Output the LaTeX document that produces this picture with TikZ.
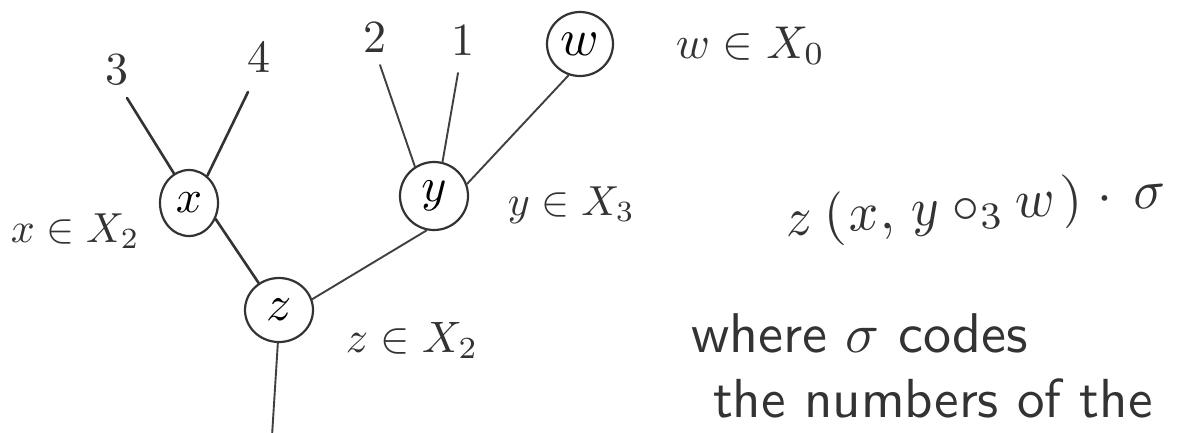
\documentclass[tikz,border=0pt]{standalone}
\usepackage{graphicx}
\usetikzlibrary{shapes.geometric}
\tikzset{
  tnode/.style={ellipse, draw=black!80, line width=2.2pt, inner sep=0pt},
  edgeA/.style={draw=black!80, line width=2.6pt, line cap=round},
  edgeB/.style={draw=black!75, line width=1.9pt, line cap=round},
  lab/.style={inner sep=0pt, text=black!80},
}
\begin{document}
\begin{tikzpicture}[x=1pt, y=-1pt]
  \fill[white] (0,0) rectangle (1186,432);
  \useasboundingbox (0,0) rectangle (1186,432);

  % tree nodes
  \node[tnode, minimum width=58pt, minimum height=66pt] (x) at (189,203) {\scalebox{4.6}{$x$}};
  \node[tnode, minimum width=68pt, minimum height=64pt] (z) at (279,310) {\scalebox{5}{$z$}};
  \node[tnode, minimum width=68pt, minimum height=68pt] (y) at (434,196) {\scalebox{4.8}{$y$}};
  \node[tnode, minimum width=66pt, minimum height=64pt] (w) at (580,44) {\scalebox{5.2}{$w$}};

  % leaf labels
  \node[lab, scale=4.6] (l3) at (117,70) {3};
  \node[lab, scale=4.6] (l4) at (259,57) {4};
  \node[lab, scale=4.6] (l2) at (375,37) {2};
  \node[lab, scale=4.6] (l1) at (463,40) {1};

  % free ends of leaf edges
  \coordinate (c3) at (127,98);
  \coordinate (c4) at (248,92);
  \coordinate (c2) at (380,65);
  \coordinate (c1) at (458,73);
  \coordinate (cb) at (272,436);

  % edges
  \draw[edgeA] (c3) -- (x.117);
  \draw[edgeA] (c4) -- (x.56);
  \draw[edgeA] (x.329) -- (z.127);
  \draw[edgeB] (c2) -- (y.123);
  \draw[edgeB] (c1) -- (y.76);
  \draw[edgeB] (y.20) -- (w.250);
  \draw[edgeB] (y.258) -- (z.18);
  \draw[edgeB] (z.268) -- (cb);

  % membership labels
  \node[lab, scale=4.2, anchor=base west] (lx) at (10,242) {$x\in X_2$};
  \node[lab, scale=4.2, anchor=base west] (ly) at (507,215) {$y\in X_3$};
  \node[lab, scale=4.4, anchor=base west] (lz) at (345,352) {$z\in X_2$};
  \node[lab, scale=4.6, anchor=base west] (lw) at (675,58) {$w\in X_0$};

  % formula and text
  \node[lab, scale=5.4, anchor=base west, rotate=4.5] (f) at (785,237)
    {$z\mkern4mu(\mkern1mu x,\mkern3mu y\circ_3 w\mkern2mu)\mkern1mu\cdot\mkern3mu\sigma$};
  \node[lab, scale=5.6, anchor=base west] (t1) at (690,352) {\sffamily where $\sigma$ codes};
  \node[lab, scale=5.5, anchor=base west] (t2) at (712,417) {\sffamily the numbers of the};
\end{tikzpicture}
\end{document}
